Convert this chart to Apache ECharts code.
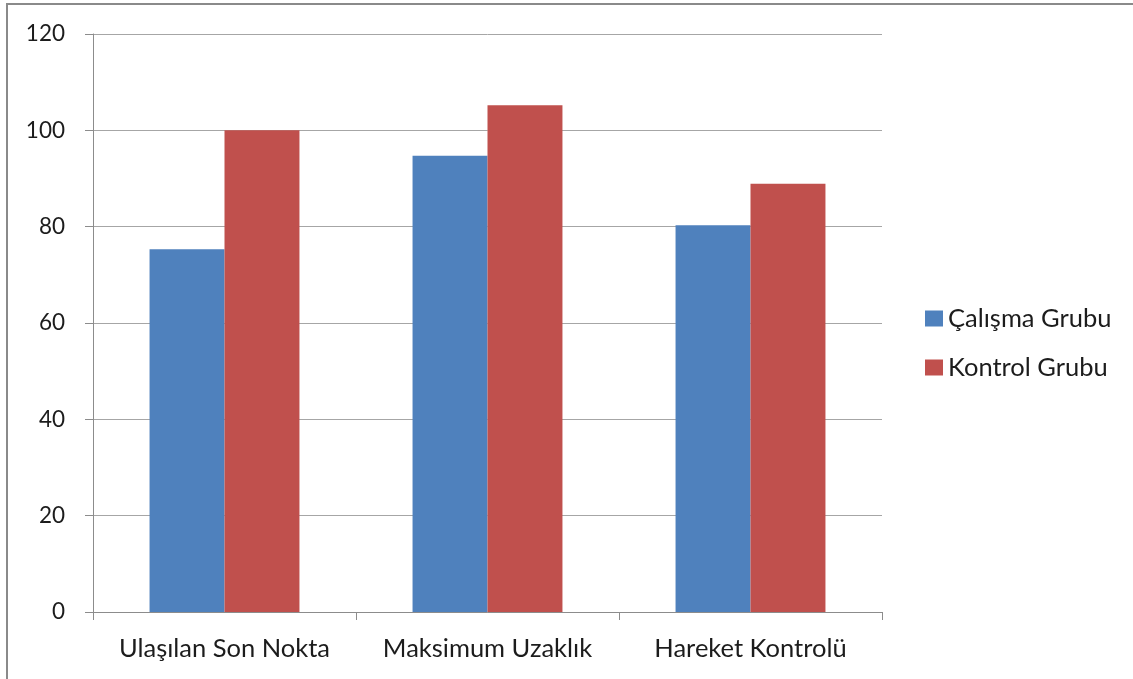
<!DOCTYPE html>
<html>
<head>
<meta charset="utf-8">
<script src="https://cdn.jsdelivr.net/npm/echarts@6/dist/echarts.min.js"></script>
<style>
  html, body { margin: 0; padding: 0; background: #ffffff; }
  #chart { width: 1133px; height: 679px; }
</style>
</head>
<body>
<div id="chart"></div>
<script>
// Categories and group values
const categories = ['Ulaşılan Son Nokta', 'Maksimum Uzaklık', 'Hareket Kontrolü'];
const seriesNames = ['Çalışma Grubu', 'Kontrol Grubu'];
const calismaValues = [75.3, 94.7, 80.3];
const kontrolValues = [100, 105.2, 88.9];
const yTicks = { min: 0, max: 120, interval: 20 };

const FONT = 'Lato';
const TEXT = '#1c1c1c';
const chart = echarts.init(document.getElementById('chart'), null, { renderer: 'canvas' });

chart.setOption({
  animation: false,
  backgroundColor: '#ffffff',
  color: ['#4F81BD', '#C0504D'],
  graphic: [{
    type: 'rect',
    shape: { x: 7, y: 4, width: 1200, height: 760 },
    style: { fill: 'none', stroke: '#8a8a8a', lineWidth: 2 },
    silent: true,
    z: -10
  }],
  grid: { left: 93, right: 251, top: 34, bottom: 67 },
  legend: {
    orient: 'vertical',
    left: 925,
    top: 305,
    padding: 0,
    itemWidth: 18,
    itemHeight: 16,
    itemGap: 22,
    icon: 'rect',
    textStyle: { fontFamily: FONT, fontSize: 25.5, color: TEXT, lineHeight: 27 },
    data: seriesNames
  },
  xAxis: {
    type: 'category',
    data: categories,
    axisLine: { show: true, lineStyle: { color: '#8c8c8c', width: 1 } },
    axisTick: { show: true, length: 8, alignWithLabel: false, lineStyle: { color: '#8c8c8c' } },
    axisLabel: { fontFamily: FONT, fontSize: 25.5, color: TEXT, margin: 24, interval: 0, hideOverlap: false },
    splitLine: { show: false }
  },
  yAxis: {
    type: 'value',
    min: yTicks.min,
    max: yTicks.max,
    interval: yTicks.interval,
    axisLine: { show: true, lineStyle: { color: '#8c8c8c', width: 1 } },
    axisTick: { show: true, length: 8, inside: false, lineStyle: { color: '#8c8c8c' } },
    axisLabel: { fontFamily: FONT, fontSize: 22.5, color: TEXT, margin: 28 },
    splitLine: { show: true, lineStyle: { color: '#a6a6a6', width: 1 } }
  },
  series: [
    {
      name: seriesNames[0],
      type: 'bar',
      data: calismaValues,
      barGap: '0%',
      barCategoryGap: '43%',
      itemStyle: { color: '#4F81BD' }
    },
    {
      name: seriesNames[1],
      type: 'bar',
      data: kontrolValues,
      barGap: '0%',
      barCategoryGap: '43%',
      itemStyle: { color: '#C0504D' }
    }
  ]
});
</script>
</body>
</html>
